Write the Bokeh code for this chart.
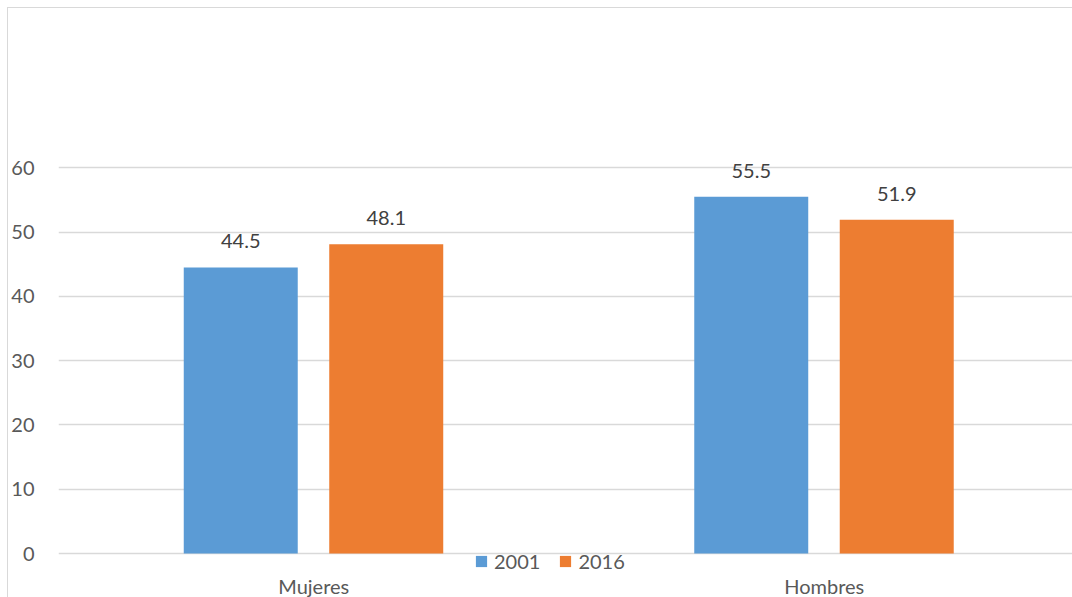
from bokeh.plotting import figure
from bokeh.models import ColumnDataSource, FixedTicker, LabelSet, Legend, LegendItem
from bokeh.transform import dodge
from bokeh.core.properties import value
from bokeh.embed import file_html
from bokeh.resources import INLINE

categories = ["Mujeres", "Hombres"]
series_2001 = [44.5, 55.5]
series_2016 = [48.1, 51.9]
y_ticks = [0, 10, 20, 30, 40, 50, 60]

xpos = [i + 0.5 for i in range(len(categories))]
source = ColumnDataSource(dict(
    x=xpos, cat=categories, a=series_2001, b=series_2016,
    la=[f"{v:.1f}" for v in series_2001], lb=[f"{v:.1f}" for v in series_2016],
))

FONT = "Lato"
GRID = "#d9d9d9"
PX_PER_UNIT = 6.43
Y0, Y1 = -3.1, 70

p = figure(frame_width=1014, frame_height=round((Y1 - Y0) * PX_PER_UNIT),
           output_backend="svg", toolbar_location=None,
           x_range=(0, 1014 / 510.5), y_range=(Y0, Y1),
           min_border_left=49, min_border_right=0, min_border_top=95, min_border_bottom=0)
p.styles = {"border-left": "1px solid #d9d9d9", "border-top": "1px solid #d9d9d9",
            "margin-left": "7px", "margin-top": "7px"}
p.outline_line_color = None
p.background_fill_color = "white"
p.border_fill_color = "white"

p.xgrid.grid_line_color = None
p.ygrid.grid_line_color = GRID
p.ygrid.grid_line_width = 1.3

p.yaxis.ticker = FixedTicker(ticks=y_ticks)
p.yaxis.axis_line_color = None
p.yaxis.major_tick_line_color = None
p.yaxis.minor_tick_line_color = None
p.yaxis.major_label_standoff = 18
p.yaxis.major_label_text_font = FONT
p.yaxis.major_label_text_font_size = "20px"
p.yaxis.major_label_text_color = "#595959"

xaxis = p.xaxis[0]
xaxis.ticker = FixedTicker(ticks=xpos)
xaxis.major_label_overrides = {x: c for x, c in zip(xpos, categories)}
xaxis.axis_line_color = None
xaxis.major_tick_line_color = None
xaxis.minor_tick_line_color = None
xaxis.major_label_standoff = -6
xaxis.major_label_text_font = FONT
xaxis.major_label_text_font_size = "20px"
xaxis.major_label_text_color = "#595959"

r1 = p.vbar(x=dodge("x", -0.1430, range=p.x_range), top="a", width=0.2233, source=source,
            fill_color="#5b9bd5", line_color=None)
r2 = p.vbar(x=dodge("x", 0.1420, range=p.x_range), top="b", width=0.2233, source=source,
            fill_color="#ed7d31", line_color=None)

for col, lab, off in (("a", "la", -0.1430), ("b", "lb", 0.1420)):
    ls = LabelSet(x=dodge("x", off, range=p.x_range), y=col, text=lab, source=source,
                  text_align="center", text_baseline="alphabetic", y_offset=19,
                  text_font=value(FONT), text_font_size="20px", text_color="#404040")
    p.add_layout(ls)

legend = Legend(items=[LegendItem(label="2001", renderers=[r1]),
                       LegendItem(label="2016", renderers=[r2])],
                orientation="horizontal", location=(416, 0),
                border_line_color=None, background_fill_alpha=0,
                label_text_font=FONT, label_text_font_size="20px", label_text_color="#595959",
                glyph_width=14, glyph_height=14, label_standoff=6, spacing=18,
                label_height=20, padding=0, margin=0)
p.add_layout(legend)

open("out.html", "w").write(file_html(p, INLINE))
